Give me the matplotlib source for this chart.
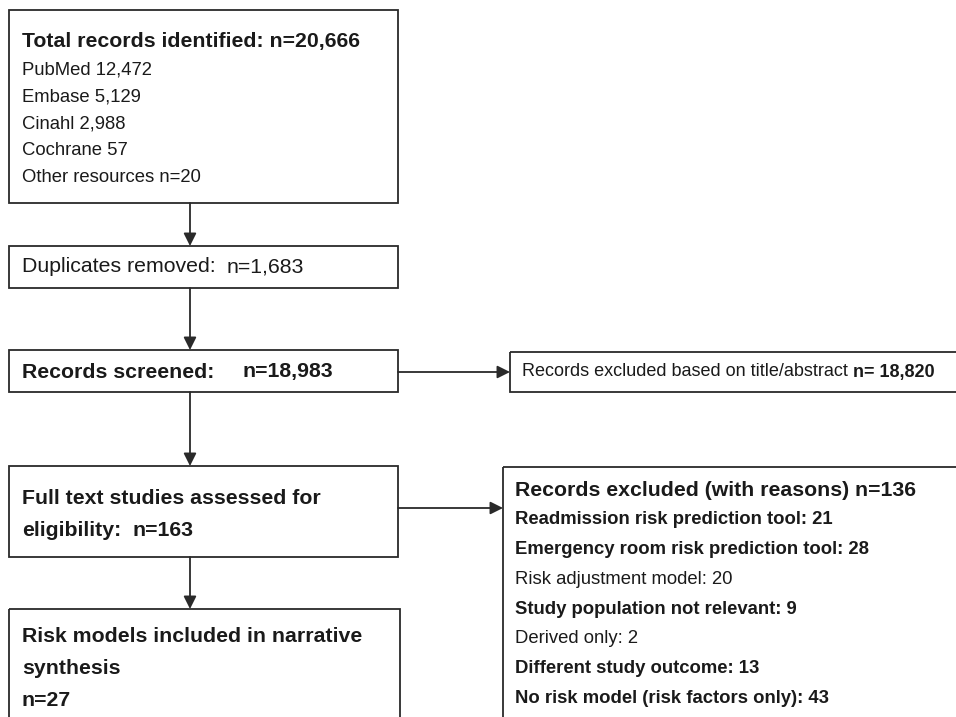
import matplotlib
matplotlib.use("Agg")
import matplotlib.pyplot as plt
from matplotlib.patches import Rectangle

plt.rcParams['font.family'] = ['Liberation Sans', 'DejaVu Sans']

# data
total_n = "20,666"
sources = ["PubMed", "Embase", "Cinahl", "Cochrane", "Other resources"]
source_n = ["12,472", "5,129", "2,988", "57", "n=20"]
duplicates_n = "1,683"
screened_n = "18,983"
excluded_title_n = "18,820"
fulltext_n = "163"
excl_reason_total = "136"
excl_reasons = ["Readmission risk prediction tool", "Emergency room risk prediction tool",
                "Risk adjustment model", "Study population not relevant", "Derived only",
                "Different study outcome", "No risk model (risk factors only)"]
excl_counts = [21, 28, 20, 9, 2, 13, 43]
excl_bold = [True, True, False, True, False, True, True]
included_n = "27"

W, H = 956, 717
fig = plt.figure(figsize=(W / 100, H / 100), dpi=100)
ax = fig.add_axes([0, 0, 1, 1])
ax.set_xlim(0, W)
ax.set_ylim(H, 0)
ax.axis('off')

ec = '#2a2a2a'
tc = '#1a1a1a'
fs_big = 15.3
fs = 13.3


def box(x0, y0, x1, y1):
    ax.add_patch(Rectangle((x0, y0), x1 - x0, y1 - y0, fill=False, ec=ec, lw=1.3, clip_on=False))


def arrow(x0, y0, x1, y1):
    ax.annotate("", xy=(x1, y1), xytext=(x0, y0),
                arrowprops=dict(arrowstyle='-|>', color=ec, lw=1.3, mutation_scale=19,
                                shrinkA=0, shrinkB=0))


def txt(x, y, s, bold=False, size=fs):
    return ax.text(x, y, s, fontsize=size, fontweight='bold' if bold else 'normal',
                   color=tc, va='center', ha='left')


# box 1
box(9, 10, 398, 203)
txt(22, 41, "Total records identified: n=" + total_n, bold=True, size=fs_big)
for i, (s, n) in enumerate(zip(sources, source_n)):
    txt(22, 70 + i * 26.8, s + " " + n, size=fs)
arrow(190, 203, 190, 246)

# box 2
box(9, 246, 398, 288)
txt(22, 267, "Duplicates removed:", size=fs_big)
txt(227, 267, "n=" + duplicates_n, size=fs_big)
arrow(190, 288, 190, 350)

# box 3
box(9, 350, 398, 392)
txt(22, 372, "Records screened:", bold=True, size=fs_big)
txt(243, 372, "n=" + screened_n, bold=True, size=fs_big)
arrow(398, 372, 510, 372)

# box 4
box(510, 352, 960, 392)
t = txt(522, 372, "Records excluded based on title/abstract ", size=13.0)
ax.annotate("n= " + excluded_title_n, xy=(1, 0.5), xycoords=t, va='center', ha='left',
            fontsize=13.0, fontweight='bold', color=tc)
arrow(190, 392, 190, 466)

# box 5
box(9, 466, 398, 557)
txt(22, 498, "Full text studies assessed for", bold=True, size=fs_big)
txt(22, 530, "eligibility:", bold=True, size=fs_big)
txt(133, 530, "n=" + fulltext_n, bold=True, size=fs_big)
arrow(398, 508, 503, 508)

# box 6
box(503, 467, 965, 730)
txt(515, 490, "Records excluded (with reasons) n=" + excl_reason_total, bold=True, size=fs_big)
for i, (r, c, b) in enumerate(zip(excl_reasons, excl_counts, excl_bold)):
    txt(515, 520 + i * 29.7, r + ": " + str(c), bold=b, size=fs)
arrow(190, 557, 190, 609)

# box 7
box(9, 609, 400, 730)
txt(22, 637, "Risk models included in narrative", bold=True, size=fs_big)
txt(22, 669, "synthesis", bold=True, size=fs_big)
txt(22, 700, "n=" + included_n, bold=True, size=fs_big)

fig.savefig("out.png", dpi=100, facecolor='white')
